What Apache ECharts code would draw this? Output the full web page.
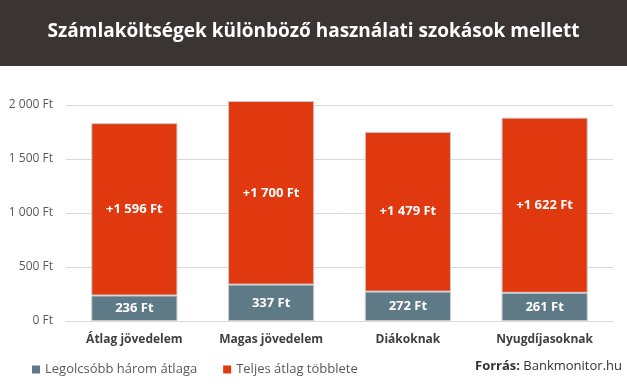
<!DOCTYPE html>
<html>
<head>
<meta charset="utf-8">
<script src="https://cdn.jsdelivr.net/npm/echarts@6/dist/echarts.min.js"></script>
<style>
html,body{margin:0;padding:0;background:#fff;}
#chart{width:627px;height:391px;}
</style>
</head>
<body>
<div id="chart"></div>
<script>
const categories = ['Átlag jövedelem', 'Magas jövedelem', 'Diákoknak', 'Nyugdíjasoknak'];
const baseValues = [236, 337, 272, 261];
const extraValues = [1596, 1700, 1479, 1622];
const seriesNames = ['Legolcsóbb három átlaga', 'Teljes átlag többlete'];
const yTicks = [0, 500, 1000, 1500, 2000];
const titleText = 'Számlaköltségek különböző használati szokások mellett';

const fmt = v => String(v).replace(/\B(?=(\d{3})+(?!\d))/g, ' ');
const FONT = '"Open Sans", sans-serif';

const chart = echarts.init(document.getElementById('chart'));
chart.setOption({
  animation: false,
  backgroundColor: '#fff',
  textStyle: { fontFamily: FONT },
  graphic: [
    { type: 'rect', left: 0, top: 0, shape: { width: 627, height: 66 }, style: { fill: '#3a3532' }, z: 0 },
    { type: 'text', left: 'center', top: 22, style: { text: titleText, fill: '#fff', font: 'bold 19px "Open Sans", sans-serif' } },
    { type: 'text', right: 5, top: 360, style: {
      text: '{b|Forrás:} {n|Bankmonitor.hu}',
      rich: {
        b: { fontFamily: FONT, fontWeight: 'bold', fontSize: 13, fill: '#333' },
        n: { fontFamily: FONT, fontSize: 13, fill: '#333' }
      }
    } }
  ],
  legend: {
    left: 27, top: 358, itemWidth: 8, itemHeight: 8, itemGap: 26,
    icon: 'rect',
    itemStyle: { borderWidth: 0 },
    textStyle: { color: '#595959', fontSize: 13, fontFamily: FONT },
    data: seriesNames
  },
  grid: { left: 66, right: 14, top: 105, bottom: 70 },
  xAxis: {
    type: 'category', data: categories,
    axisLine: { show: true, lineStyle: { color: '#d9d9d9' } },
    axisTick: { show: false },
    axisLabel: { color: '#404040', fontWeight: 'bold', fontSize: 12, margin: 13, fontFamily: FONT }
  },
  yAxis: {
    type: 'value', min: yTicks[0], max: yTicks[yTicks.length - 1], interval: 500,
    axisLine: { show: false }, axisTick: { show: false },
    splitLine: { lineStyle: { color: '#d9d9d9' } },
    axisLabel: { color: '#595959', fontSize: 12, margin: 13, fontFamily: FONT, formatter: v => fmt(v) + ' Ft' }
  },
  series: [
    {
      name: seriesNames[0], type: 'bar', stack: 's', data: baseValues, barWidth: '63%', clip: false,
      itemStyle: { color: '#5f7a87', borderColor: '#c9c9c9', borderWidth: 1 },
      label: { show: true, position: 'inside', color: '#fff', fontWeight: 'bold', fontSize: 13, fontFamily: FONT, formatter: p => fmt(p.value) + ' Ft' }
    },
    {
      name: seriesNames[1], type: 'bar', stack: 's', data: extraValues, barWidth: '63%', clip: false,
      itemStyle: { color: '#e0380f', borderColor: '#c9c9c9', borderWidth: 1 },
      label: { show: true, position: 'inside', color: '#fff', fontWeight: 'bold', fontSize: 13, fontFamily: FONT, formatter: p => '+' + fmt(p.value) + ' Ft' }
    }
  ]
});
</script>
</body>
</html>
